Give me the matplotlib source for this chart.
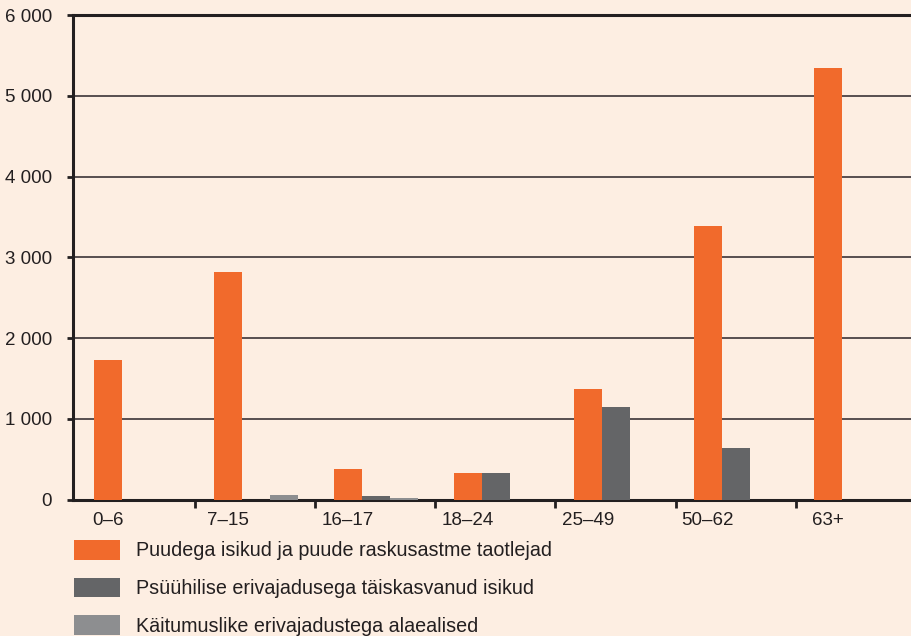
import matplotlib
matplotlib.use("Agg")
import matplotlib.pyplot as plt
import numpy as np

plt.rcParams['font.family'] = ['Liberation Sans', 'DejaVu Sans']

# vanuserühmad ja väärtused
categories = ['0–6', '7–15', '16–17', '18–24', '25–49', '50–62', '63+']
puudega = [1730, 2820, 380, 330, 1370, 3390, 5340]
psyyhilise = [0, 0, 45, 330, 1150, 640, 0]
kaitumuslike = [0, 50, 20, 0, 0, 0, 0]
series_names = ['Puudega isikud ja puude raskusastme taotlejad',
                'Psüühilise erivajadusega täiskasvanud isikud',
                'Käitumuslike erivajadustega alaealised']
yticks = [0, 1000, 2000, 3000, 4000, 5000, 6000]
ytick_labels = ['0', '1 000', '2 000', '3 000', '4 000', '5 000', '6 000']

BG = '#FDEEE2'
colors = ['#F16A2C', '#646567', '#8D8E90']

fig = plt.figure(figsize=(9.12, 6.36), dpi=100, facecolor=BG)
ax = fig.add_axes([0.080, 0.2146, 0.920, 0.7618], facecolor=BG)

x = np.arange(len(categories))
w = 0.233
bars = []
for k, vals in enumerate([puudega, psyyhilise, kaitumuslike]):
    b = ax.bar(x + k * w, vals, width=w, color=colors[k], zorder=3,
               label=series_names[k], linewidth=0)
    bars.append(b)

ax.set_xlim(-0.29, 6.7)
ax.set_ylim(0, 6000)
ax.set_yticks(yticks)
ax.set_yticklabels(ytick_labels)
ax.set_xticks(x)
ax.set_xticklabels(categories)
ax.set_xticks(x[1:] - 0.27, minor=True)

ax.yaxis.grid(True, color='#4a4244', linewidth=1.3, zorder=0)
ax.set_axisbelow(True)
ax.spines['right'].set_visible(False)
for s in ['left', 'bottom', 'top']:
    ax.spines[s].set_color('#231F20')
    ax.spines[s].set_linewidth(2.2)

ax.tick_params(axis='y', direction='out', length=4, width=2, color='#231F20',
               labelsize=13.5, pad=11, labelcolor='#231F20')
ax.tick_params(axis='x', which='major', length=0, labelsize=13.5, pad=9,
               labelcolor='#231F20')
ax.tick_params(axis='x', which='minor', direction='out', length=6, width=2,
               color='#231F20')

leg = fig.legend(handles=bars, labels=series_names, loc='upper left',
                 bbox_to_anchor=(0.081, 0.151), frameon=False, fontsize=14.2,
                 handlelength=2.34, handleheight=1.16, labelspacing=0.87,
                 handletextpad=0.81, borderaxespad=0, borderpad=0)
for t in leg.get_texts():
    t.set_color('#231F20')

fig.savefig('out.png', dpi=100, facecolor=BG)
